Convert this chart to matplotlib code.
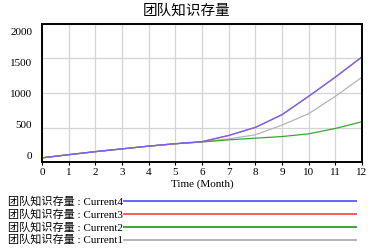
import matplotlib
matplotlib.use('Agg')
import matplotlib.pyplot as plt
from matplotlib.lines import Line2D
from matplotlib.transforms import ScaledTranslation

plt.rcParams['font.family'] = ['Liberation Serif', 'Noto Sans CJK SC']

months = list(range(13))
current1 = [60, 106, 150, 190, 230, 265, 292, 335, 394, 535, 700, 952, 1229]
current2 = [60, 106, 150, 190, 230, 265, 290, 321, 345, 369, 408, 486, 583]
current3 = [60, 106, 150, 190, 230, 263, 292, 382, 500, 683, 950, 1228, 1521]
current4 = [60, 106, 150, 190, 230, 266, 296, 386, 502, 687, 954, 1231, 1525]
series_names = ['团队知识存量 : Current4', '团队知识存量 : Current3',
                '团队知识存量 : Current2', '团队知识存量 : Current1']
series_colors = ['#6666ff', '#ff5a5a', '#3aa63a', '#b4b4b4']
yticks = [0, 500, 1000, 1500, 2000]

fig = plt.figure(figsize=(3.7, 2.48), dpi=100)
ax = fig.add_axes([42 / 370, 1 - 162 / 248, 320 / 370, 138 / 248])

ax.plot(months, current1, color=series_colors[3], lw=0.9)
ax.plot(months, current2, color=series_colors[2], lw=0.9)
ax.plot(months, current3, color=series_colors[1], lw=0.9)
ax.plot(months, current4, color=series_colors[0], lw=0.9)

ax.set_xlim(0, 12)
ax.set_ylim(0, 2000)
ax.set_xticks(months)
ax.set_yticks(yticks)
ax.grid(True, color='#d4d4d4', lw=0.9)
ax.set_axisbelow(True)
for s in ax.spines.values():
    s.set_linewidth(1.4)
ax.tick_params(axis='y', length=0, pad=7, labelsize=8)
ax.tick_params(axis='x', length=2, pad=2, labelsize=8)

# y labels sit a bit closer together than the grid lines
for lbl, v in zip(ax.get_yticklabels(), yticks):
    shift_px = -(v - 1000) * 0.0067 - 0.5
    lbl.set_transform(lbl.get_transform() + ScaledTranslation(0, shift_px / 100, fig.dpi_scale_trans))

ax.set_xlabel('Time (Month)', fontsize=8, labelpad=2)
fig.text(187 / 370, 1 - 11 / 248, '团队知识存量', ha='center', va='center',
         fontsize=10.5, family=['Noto Sans CJK SC'])

row_y = [201, 214, 227, 239.5]
for name, col, y in zip(series_names, series_colors, row_y):
    fy = 1 - y / 248
    fig.text(8 / 370, fy, name, ha='left', va='center', fontsize=8)
    fig.add_artist(Line2D([124 / 370, 356 / 370], [fy, fy], color=col, lw=1.4,
                          transform=fig.transFigure))

fig.savefig('out.png', dpi=100)
